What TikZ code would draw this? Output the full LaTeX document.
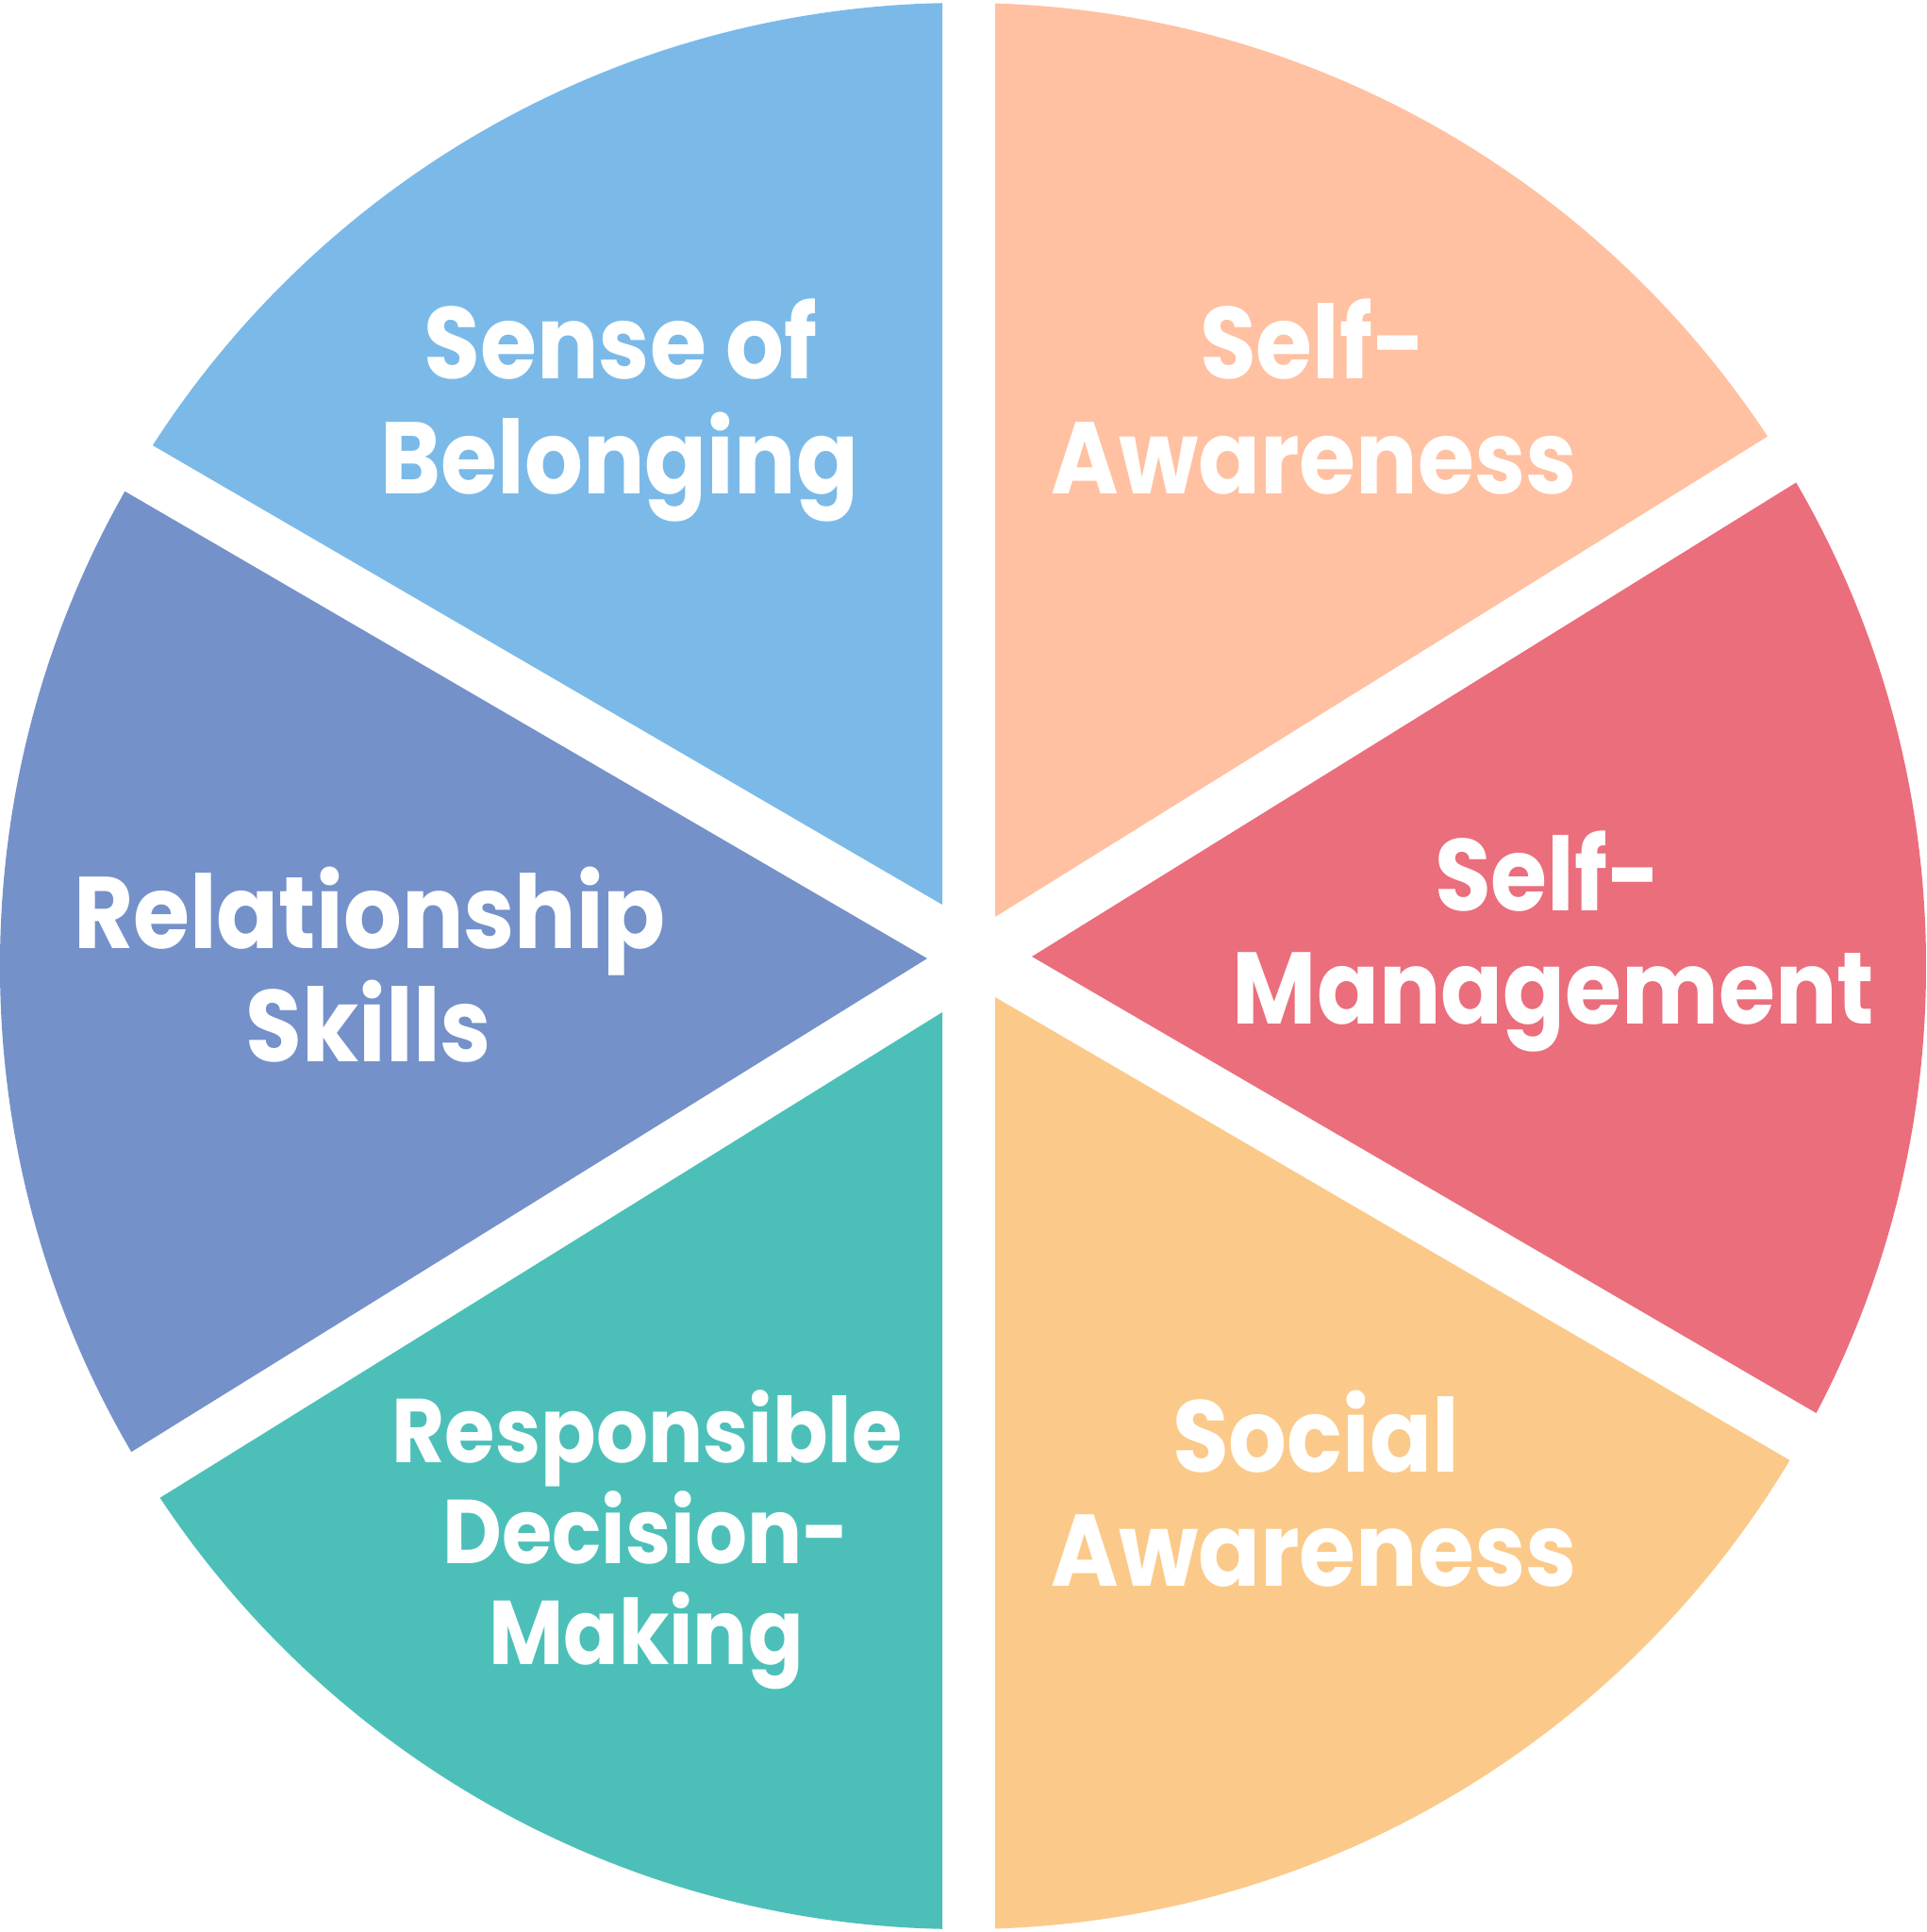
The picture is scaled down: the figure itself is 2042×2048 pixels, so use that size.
\documentclass[tikz,border=0pt]{standalone}
\usepackage{fontspec}
\setmainfont{Poppins}[FakeStretch=0.9]
\usetikzlibrary{calc}
\definecolor{cBlue}{HTML}{7BBAE8}
\definecolor{cPeach}{HTML}{FFC1A1}
\definecolor{cRed}{HTML}{EB6E7C}
\definecolor{cYellow}{HTML}{FBCA8A}
\definecolor{cTeal}{HTML}{4CC0B8}
\definecolor{cPurple}{HTML}{7591CA}
\begin{document}
\begin{tikzpicture}[x=0.5pt,y=-0.5pt,
  lbl/.style={text=white, font=\fontsize{54}{60}\selectfont\bfseries, inner sep=0pt, anchor=base},
  lbls/.style={lbl, font=\fontsize{48}{53}\selectfont\bfseries}]
\useasboundingbox (0,0) rectangle (2042,2048);
\begin{scope}
  \clip (1021,1024) circle[radius=510.5pt];
  % Sense of Belonging
  \fill[cBlue] (999,959) -- ($(999,959)!1.3!(160,471)$) -- (-60,-60) -- (999,-60) -- cycle;
  % Self-Awareness
  \fill[cPeach] (1055,972) -- ($(1055,972)!1.3!(1875,462)$) -- (2100,-60) -- (1055,-60) -- cycle;
  % Self-Management
  \fill[cRed] (1094,1014) -- ($(1094,1014)!1.3!(1905,511)$) -- ($(1094,1014)!1.3!(1924,1497)$) -- cycle;
  % Social Awareness
  \fill[cYellow] (1055,1057) -- ($(1055,1057)!1.3!(1896,1547)$) -- (2100,2110) -- (1055,2110) -- cycle;
  % Responsible Decision-Making
  \fill[cTeal] (999,1073) -- ($(999,1073)!1.3!(174,1585)$) -- (-60,2110) -- (999,2110) -- cycle;
  % Relationship Skills
  \fill[cPurple] (983,1016) -- ($(983,1016)!1.3!(131,520)$) -- ($(983,1016)!1.3!(141,1538)$) -- cycle;
\end{scope}
\node[lbl] (sob1) at (658,402) {Sense of};
\node[lbl] (sob2) at (657,523) {Belonging};
\node[lbl] (sa1) at (1392,402) {Self-};
\node[lbl] (sa2) at (1393,523) {Awareness};
\node[lbl] (sm1) at (1641,965) {Self-};
\node[lbl] (sm2) at (1647,1085) {Management};
\node[lbl] (rs1) at (392,1005) {Relationship};
\node[lbl] (rs2) at (391,1125) {Skills};
\node[lbls] (rd1) at (686,1550) {Responsible};
\node[lbls] (rd2) at (685,1657) {Decision-};
\node[lbls] (rd3) at (685,1764) {Making};
\node[lbl] (so1) at (1395,1560) {Social};
\node[lbl] (so2) at (1393,1681) {Awareness};
\end{tikzpicture}
\end{document}
